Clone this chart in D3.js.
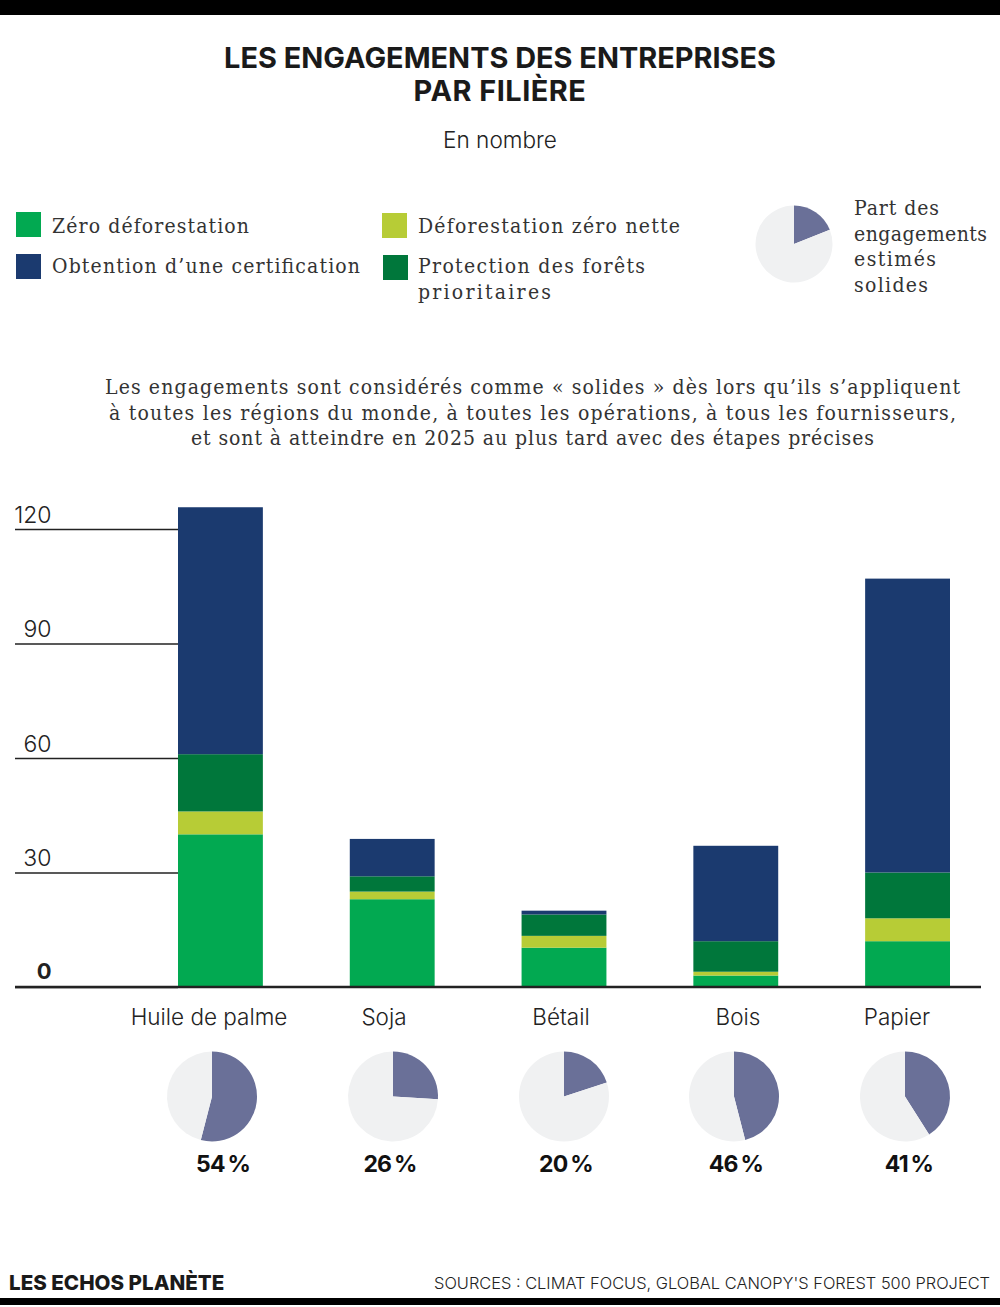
<!DOCTYPE html>
<html>
<head>
<meta charset="utf-8">
<script src="https://cdn.jsdelivr.net/npm/d3@7"></script>
<style>
  html, body { margin: 0; padding: 0; background: #fff; }
  .sans { font-family: Inter, sans-serif; }
  .slab { font-family: "DejaVu Serif Condensed", "DejaVu Serif", serif; font-size: 21px; fill: #333; }
</style>
</head>
<body>
<div id="chart"></div>
<script>
const categories = ["Huile de palme", "Soja", "Bétail", "Bois", "Papier"];
const zeroDeforestation = [40, 23, 10.3, 3, 12];
const deforestationNette = [6, 2, 3.1, 1, 6];
const protectionForets = [15, 4, 5.6, 8, 12];
const certification = [64.7, 9.8, 1, 25, 77];
const solidShare = [54, 26, 20, 46, 41];
const yTicks = [0, 30, 60, 90, 120];
const seriesNames = ["Zéro déforestation", "Déforestation zéro nette", "Protection des forêts", "Obtention d’une certification"];
const seriesColors = ["#02a951", "#b7cc36", "#00773b", "#1b3a6f"];

const width = 1000, height = 1307;
const svg = d3.select("#chart").append("svg")
  .attr("width", width)
  .attr("height", height)
  .style("display", "block");

// black bands top and bottom
svg.append("rect").attr("width", width).attr("height", 15).attr("fill", "#000");
svg.append("rect").attr("y", 1298).attr("width", width).attr("height", 7).attr("fill", "#000");

// title
const centerText = (txt, x, y, size, weight, cls, fill) => svg.append("text")
  .attr("class", cls)
  .attr("x", x).attr("y", y)
  .attr("text-anchor", "middle")
  .style("font-size", size ? size + "px" : null)
  .style("font-weight", weight)
  .style("fill", fill)
  .text(txt);

// the reference slab face is wider than anything installed, so stretch the spacing line by line
const slabLine = (txt, xPos, yPos, len) => svg.append("text")
  .attr("class", "slab")
  .attr("x", xPos).attr("y", yPos)
  .attr("textLength", len)
  .attr("lengthAdjust", "spacing")
  .text(txt);

centerText("LES ENGAGEMENTS DES ENTREPRISES", 500, 68, 28.9, 700, "sans", "#1a1a1a");
centerText("PAR FILIÈRE", 500, 101, 28.9, 700, "sans", "#1a1a1a").style("letter-spacing", "0.5px");
centerText("En nombre", 500, 148, 22.6, 300, "sans", "#222");

// legend
const legendBoxes = [
  {i: 0, x: 16, y: 212},
  {i: 3, x: 16, y: 254},
  {i: 1, x: 382, y: 213},
  {i: 2, x: 383, y: 255},
];
legendBoxes.forEach(l => {
  svg.append("rect")
    .attr("x", l.x).attr("y", l.y)
    .attr("width", 25).attr("height", 25)
    .attr("fill", seriesColors[l.i]);
});
slabLine(seriesNames[0], 52, 233, 197);
slabLine(seriesNames[3], 52, 273, 308);
slabLine(seriesNames[1], 418, 233, 262);
slabLine(seriesNames[2], 418, 273, 227);
slabLine("prioritaires", 418, 299, 133);

// pies
const arc = d3.arc().innerRadius(0);
const drawPie = (cx, cy, r, pct) => {
  const g = svg.append("g").attr("transform", `translate(${cx},${cy})`);
  const slices = d3.pie().sort(null)([pct, 100 - pct]);
  g.selectAll("path").data(slices).enter().append("path")
    .attr("d", d => arc.outerRadius(r)(d))
    .attr("fill", (d, i) => i === 0 ? "#6a7098" : "#f0f1f2");
};

drawPie(794, 244, 38.5, 19);
slabLine("Part des", 854, 215, 85);
slabLine("engagements", 854, 240.6, 133);
slabLine("estimés", 854, 266.2, 82);
slabLine("solides", 854, 291.8, 74);

// note
slabLine("Les engagements sont considérés comme « solides » dès lors qu’ils s’appliquent", 105, 394, 855);
slabLine("à toutes les régions du monde, à toutes les opérations, à tous les fournisseurs,", 109, 419.6, 847);
slabLine("et sont à atteindre en 2025 au plus tard avec des étapes précises", 191, 445.2, 683);

// bars
const x = d3.scaleBand()
  .domain(categories)
  .range([178, 950])
  .paddingInner(0.506)
  .paddingOuter(0);
const y = d3.scaleLinear()
  .domain([0, 120])
  .range([987, 529]);

const rows = categories.map((c, i) => ({
  category: c,
  s0: zeroDeforestation[i],
  s1: deforestationNette[i],
  s2: protectionForets[i],
  s3: certification[i],
}));
const stacked = d3.stack().keys(["s0", "s1", "s2", "s3"])(rows);

svg.selectAll("g.layer")
  .data(stacked)
  .enter().append("g")
    .attr("class", "layer")
    .attr("fill", (d, i) => seriesColors[i])
  .selectAll("rect")
  .data(d => d)
  .enter().append("rect")
    .attr("x", d => x(d.data.category))
    .attr("y", d => y(d[1]))
    .attr("width", x.bandwidth())
    .attr("height", d => y(d[0]) - y(d[1]));

// y axis, ticks run from the first bar to the left edge
const yAxis = svg.append("g")
  .attr("transform", "translate(178,0)")
  .call(d3.axisLeft(y).tickValues(yTicks).tickSize(163));
yAxis.select(".domain").remove();
yAxis.selectAll("line").attr("stroke", "#222").attr("stroke-width", 1.3);
yAxis.selectAll("text")
  .attr("x", -126.5)
  .attr("y", -7)
  .attr("dy", 0)
  .attr("text-anchor", "end")
  .attr("class", "sans")
  .style("font-size", "23px")
  .style("font-weight", d => d === 0 ? 700 : 300)
  .style("fill", "#222");
yAxis.selectAll(".tick").filter(d => d === 0).select("text").attr("y", -9).style("font-size", "22px");

// baseline
svg.append("line")
  .attr("x1", 15).attr("x2", 981)
  .attr("y1", y(0)).attr("y2", y(0))
  .attr("stroke", "#222").attr("stroke-width", 2.5);

// category labels, pies and percentages under the bars
const labelX = [209, 384, 561, 738, 897];
const pieX = [212, 393, 564, 734, 905];
const pctX = [223, 390, 566, 736, 909];
categories.forEach((c, i) => {
  centerText(c, labelX[i], 1025, 22.5, 300, "sans", "#222");
  drawPie(pieX[i], 1096.5, 45, solidShare[i]);
  centerText(solidShare[i] + "\u2009%", pctX[i], 1172, 23, 700, "sans", "#111").style("letter-spacing", "-0.8px");
});

// footer
svg.append("text").attr("class", "sans")
  .attr("x", 9).attr("y", 1290)
  .style("font-size", "20.6px").style("font-weight", 800).style("fill", "#1a1a1a")
  .text("LES ECHOS PLANÈTE");
svg.append("text").attr("class", "sans")
  .attr("x", 990).attr("y", 1289)
  .attr("text-anchor", "end")
  .style("font-size", "16.4px").style("font-weight", 300).style("fill", "#222")
  .text("SOURCES : CLIMAT FOCUS, GLOBAL CANOPY'S FOREST 500 PROJECT");
</script>
</body>
</html>
